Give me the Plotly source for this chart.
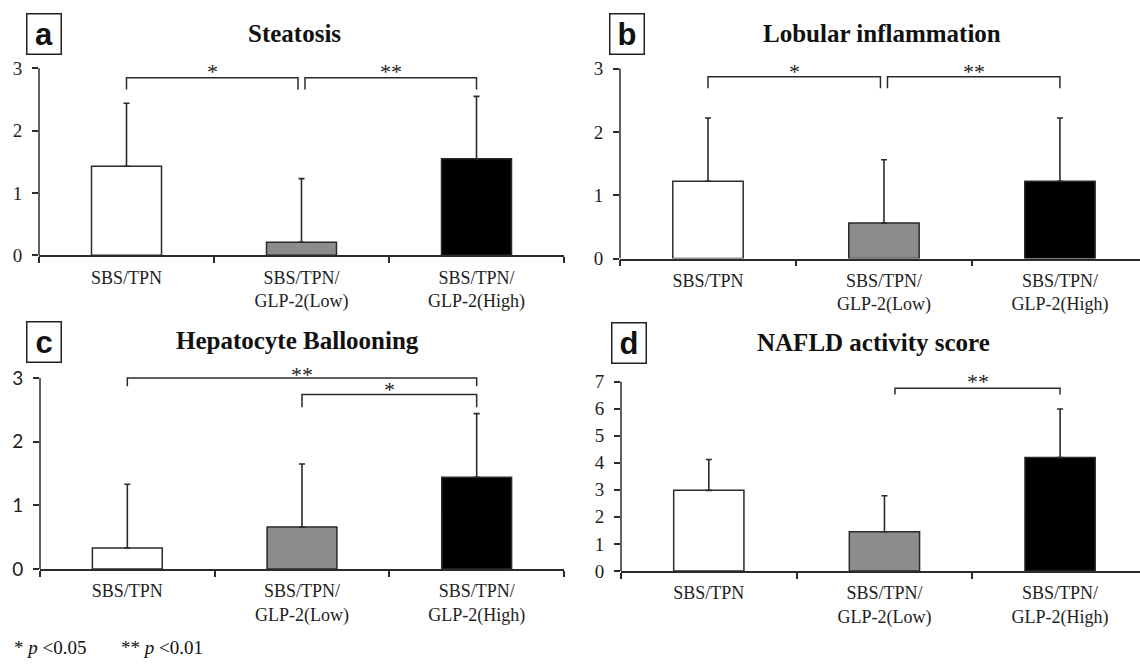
import plotly.graph_objects as go

W, H = 1140, 672

# ---------------- data ----------------
categories = ["SBS/TPN", "SBS/TPN/<br>GLP-2(Low)", "SBS/TPN/<br>GLP-2(High)"]
bar_colors = ["#ffffff", "#8c8c8c", "#000000"]

titles = ["Steatosis", "Lobular inflammation", "Hepatocyte Ballooning", "NAFLD activity score"]
panel_letters = ["a", "b", "c", "d"]

steatosis_mean = [1.43, 0.21, 1.55]
steatosis_sd = [1.01, 1.02, 1.00]
lobular_mean = [1.22, 0.56, 1.22]
lobular_sd = [1.00, 1.00, 1.00]
ballooning_mean = [0.33, 0.66, 1.44]
ballooning_sd = [1.00, 0.99, 1.00]
nas_mean = [2.98, 1.45, 4.19]
nas_sd = [1.14, 1.33, 1.80]

# significance brackets: (from group, to group, top, leg end, label, label height)
steatosis_sig = [(0.0, 0.98, 2.85, 2.66, "*", 3.0), (1.02, 2.0, 2.85, 2.66, "**", 3.0)]
lobular_sig = [(0.0, 0.98, 2.87, 2.69, "*", 3.0), (1.02, 2.0, 2.87, 2.69, "**", 3.0)]
ballooning_sig = [(0.0, 2.0, 3.0, 2.87, "**", 3.1), (1.0, 2.0, 2.74, 2.54, "*", 2.87)]
nas_sig = [(1.06, 2.0, 6.76, 6.52, "**", 7.12)]

y_ticks_3 = [0, 1, 2, 3]
y_ticks_7 = [0, 1, 2, 3, 4, 5, 6, 7]

means = [steatosis_mean, lobular_mean, ballooning_mean, nas_mean]
sds = [steatosis_sd, lobular_sd, ballooning_sd, nas_sd]
sigs = [steatosis_sig, lobular_sig, ballooning_sig, nas_sig]
yticks = [y_ticks_3, y_ticks_3, y_ticks_3, y_ticks_7]

# ---------------- geometry (pixels) ----------------
# left, right, zero_px, top_tick_px, x-range end, y-range max
geom = [
    (39, 564, 257.7, 66.7, 2.5, 3.15),
    (620, 1140, 261.0, 67.0, 2.455, 3.15),
    (40, 564, 578.0, 383.0, 2.5, 3.15),
    (621, 1140, 580.0, 386.7, 2.455, 7.3),
]
title_pos = [(294, 31), (882, 31), (297, 345), (873, 347)]
box_pos = [(44, 32), (627, 32), (44, 346.5), (628.5, 347.5)]

SERIF = "Liberation Serif"
SANS = "Liberation Sans"
LINE = "#2b2b2b"

fig = go.Figure()
layout = dict(
    width=W, height=H, margin=dict(l=0, r=0, t=0, b=0),
    paper_bgcolor="white", plot_bgcolor="rgba(0,0,0,0)",
    showlegend=False, bargap=0.6,
)
shapes = []
annotations = []

for i in range(4):
    n = "" if i == 0 else str(i + 1)
    xa, ya = "x" + n, "y" + n
    left, right, zero_px, top_px, xend, ymax = geom[i]
    top_val = yticks[i][-1]
    unit = (zero_px - top_px) / top_val
    dom_top_px = zero_px - ymax * unit

    fig.add_trace(go.Bar(
        x=categories, y=means[i], xaxis=xa, yaxis=ya, width=0.4,
        marker=dict(color=bar_colors, line=dict(color=LINE, width=1.5)),
        error_y=dict(type="data", array=sds[i], arrayminus=[0, 0, 0], symmetric=False,
                     thickness=1.6, width=3, color=LINE),
        hoverinfo="skip",
    ))

    layout["xaxis" + n] = dict(
        domain=[left / W, right / W], anchor=ya, type="category",
        range=[-0.5, xend], showline=True, linecolor=LINE, linewidth=1.5,
        ticks="outside", tickson="boundaries", ticklen=6, tickwidth=1.5, tickcolor=LINE,
        tickfont=dict(family=SERIF, size=18, color="#222"), showgrid=False, zeroline=False,
        ticklabelstandoff=5, fixedrange=True,
    )
    layout["yaxis" + n] = dict(
        domain=[1 - zero_px / H, 1 - dom_top_px / H], anchor=xa,
        range=[0, ymax], tickvals=yticks[i], showline=False, showgrid=False, zeroline=False,
        ticks="outside", ticklen=6, tickwidth=1.5, tickcolor=LINE,
        tickfont=dict(family=("Lato" if i == 2 else SERIF), size=19, color="#222"),
        ticklabelstandoff=6, fixedrange=True,
    )
    # y-axis line from 0 to the top tick
    shapes.append(dict(type="line", xref=xa + " domain", yref=ya, x0=0, x1=0, y0=0, y1=top_val,
                       line=dict(color=LINE, width=1.5)))
    # significance brackets
    for (g0, g1, top, leg, lab, ly) in sigs[i]:
        shapes.append(dict(type="path", xref=xa, yref=ya,
                           path=f"M {g0},{leg} L {g0},{top} L {g1},{top} L {g1},{leg}",
                           line=dict(color=LINE, width=1.5)))
        annotations.append(dict(xref=xa, yref=ya, x=(g0 + g1) / 2, y=ly, text=lab, showarrow=False,
                                xanchor="center", yanchor="middle", yshift=-3,
                                font=dict(family=SERIF, size=22, color="#222")))
    # title
    tx, ty = title_pos[i]
    annotations.append(dict(xref="paper", yref="paper", x=tx / W, y=1 - ty / H, text=f"<b>{titles[i]}</b>",
                            showarrow=False, xanchor="center", yanchor="middle",
                            font=dict(family=SERIF, size=25, color="#111")))
    # panel letter box
    bx, by = box_pos[i]
    annotations.append(dict(xref="paper", yref="paper", x=bx / W, y=1 - by / H,
                            text=f"<b>{panel_letters[i]}</b>", showarrow=False,
                            xanchor="center", yanchor="middle", width=33, height=39,
                            bordercolor="#222", borderwidth=1.5, borderpad=0,
                            font=dict(family=SANS, size=31, color="#111")))

# footnote
annotations.append(dict(xref="paper", yref="paper", x=12 / W, y=1 - 658 / H, text="* <i>p</i> <0.05",
                        showarrow=False, xanchor="left", yanchor="middle",
                        font=dict(family=SERIF, size=19, color="#111")))
annotations.append(dict(xref="paper", yref="paper", x=119 / W, y=1 - 658 / H, text="** <i>p</i> <0.01",
                        showarrow=False, xanchor="left", yanchor="middle",
                        font=dict(family=SERIF, size=19, color="#111")))

layout["shapes"] = shapes
layout["annotations"] = annotations
fig.update_layout(**layout)

fig.write_html("out.html", config={"displayModeBar": False},
               post_script="document.body.style.margin='0';")
